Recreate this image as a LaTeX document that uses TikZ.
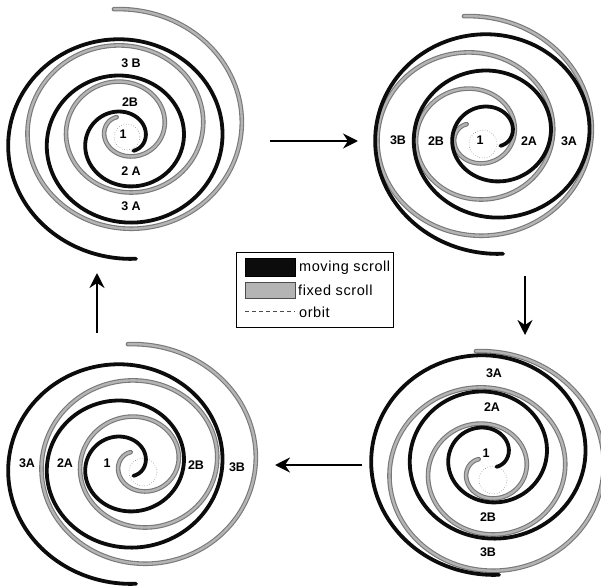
\documentclass[tikz,border=0pt]{standalone}
\usepackage{fontspec}
\setmainfont{Liberation Sans}
\newfontfamily\legfont[LetterSpace=4]{Liberation Sans}
\usetikzlibrary{arrows.meta}
\definecolor{fixout}{HTML}{787878}
\definecolor{fixin}{HTML}{B4B4B4}
\definecolor{movk}{HTML}{0C0C0C}
\newcommand{\spiralplot}[3]{plot[domain=126:1175,samples=260,smooth,variable=\t]
  ({#1+(20+0.1074*(\t-180))*cos(\t+#3)},{#2-0.94*(20+0.1074*(\t-180))*sin(\t+#3)})}
\newcommand{\fixedscroll}[2]{%
  \draw[fixout,line width=4.6pt,line cap=round] \spiralplot{#1}{#2}{0};
  \draw[fixin,line width=2.4pt,line cap=round] \spiralplot{#1}{#2}{0};}
\newcommand{\movingscroll}[2]{%
  \draw[movk,line width=3.8pt,line cap=round] \spiralplot{#1}{#2}{180};}
\tikzset{
  lab/.style={font=\bfseries\fontsize{12.5}{12.5}\selectfont,inner sep=0pt},
  flowarrow/.style={line width=2.8pt,-{Stealth[length=15pt,width=15pt,inset=5pt]}},
  orbitline/.style={dotted,line width=0.5pt,black!60},
  legtext/.style={anchor=west,inner sep=0pt,font=\legfont\fontsize{14.5}{15}\selectfont}
}
\begin{document}
\begin{tikzpicture}[x=1pt,y=-1pt]
\useasboundingbox (0,0) rectangle (601,585);
\fill[white] (0,0) rectangle (601,585);
% panel 1
\draw[orbitline] (127,137) circle[radius=13];
\fixedscroll{125}{128}
\movingscroll{125}{140}
\node[lab] (a1) at (123,134) {1};
\node[lab] (a2) at (131,171) {2 A};
\node[lab] (a3) at (131,206) {3 A};
\node[lab] (a4) at (130,102) {2B};
\node[lab] (a5) at (131,63) {3 B};
% panel 2
\draw[orbitline] (483,144) circle[radius=14];
\fixedscroll{475}{135}
\movingscroll{492}{135}
\node[lab] (b1) at (480,140) {1};
\node[lab] (b2) at (529,141) {2A};
\node[lab] (b3) at (569,141) {3A};
\node[lab] (b4) at (436,141) {2B};
\node[lab] (b5) at (398,140) {3B};
% panel 3
\draw[orbitline] (493,480) circle[radius=14];
\fixedscroll{487}{470}
\movingscroll{488}{456}
\node[lab] (c1) at (486,453) {1};
\node[lab] (c2) at (492,407) {2A};
\node[lab] (c3) at (494,373) {3A};
\node[lab] (c4) at (488,517) {2B};
\node[lab] (c5) at (488,552) {3B};
% panel 4
\draw[orbitline] (143,472) circle[radius=14];
\fixedscroll{139}{463}
\movingscroll{125}{465}
\node[lab] (d1) at (107,463) {1};
\node[lab] (d2) at (65,463) {2A};
\node[lab] (d3) at (27,463) {3A};
\node[lab] (d4) at (196,465) {2B};
\node[lab] (d5) at (237,467) {3B};
% arrows
\coordinate (p1) at (270,141); \coordinate (p2) at (358,141);
\coordinate (q1) at (525,276); \coordinate (q2) at (525,335);
\coordinate (r1) at (362,465); \coordinate (r2) at (275,465);
\coordinate (s1) at (97,333); \coordinate (s2) at (97,273);
\draw[flowarrow] (p1) -- (p2);
\draw[flowarrow] (q1) -- (q2);
\draw[flowarrow] (r1) -- (r2);
\draw[flowarrow] (s1) -- (s2);
% legend
\node[draw=black,line width=0.9pt,minimum width=157pt,minimum height=75pt,inner sep=0pt] (legend) at (314.5,289.5) {};
\node[fill=movk,draw=black,minimum width=50pt,minimum height=18pt,inner sep=0pt] (k1) at (270,267) {};
\node[fill=fixin,draw=black!70,line width=0.9pt,minimum width=50pt,minimum height=16pt,inner sep=0pt] (k2) at (270,290) {};
\coordinate (o1) at (245,311); \coordinate (o2) at (295,311);
\draw[black!70,line width=0.6pt,dash pattern=on 4pt off 3pt] (o1) -- (o2);
\node[legtext] (t1) at (299,268) {moving scroll};
\node[legtext] (t2) at (298,290) {fixed scroll};
\node[legtext] (t3) at (299,312) {orbit};
\end{tikzpicture}
\end{document}
